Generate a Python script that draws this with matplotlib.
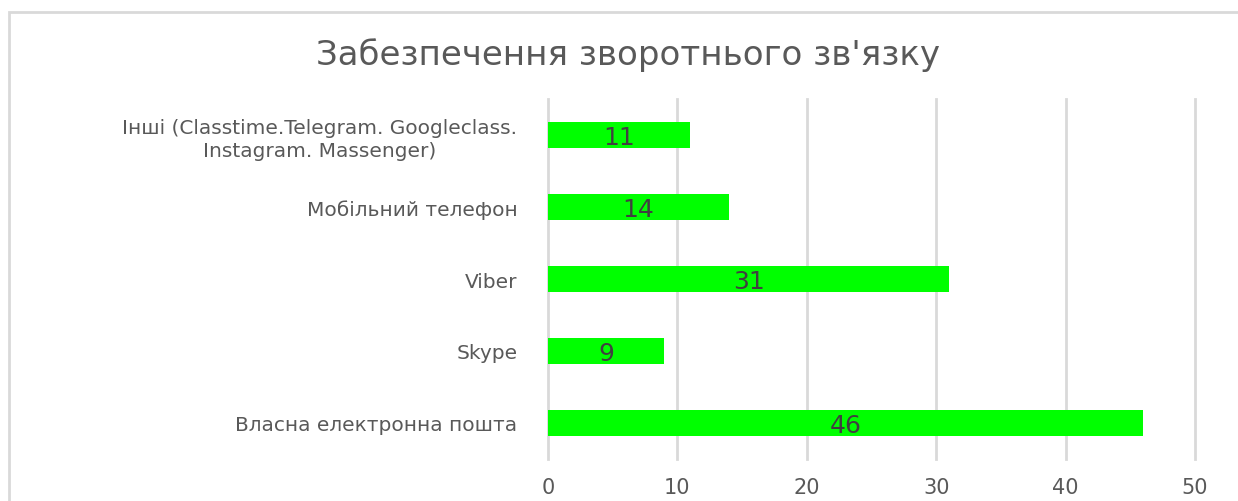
import matplotlib
matplotlib.use("Agg")
import matplotlib.pyplot as plt
from matplotlib.patches import Rectangle

title = "Забезпечення зворотнього зв'язку"
categories = ["Власна електронна пошта", "Skype", "Viber", "Мобільний телефон",
              "Інші (Classtime.Telegram. Googleclass.\nInstagram. Massenger)"]
values = [46, 9, 31, 14, 11]
xticks = [0, 10, 20, 30, 40, 50]

W, H = 1238, 502
fig = plt.figure(figsize=(W / 100, H / 100), dpi=100)
fig.patch.set_facecolor("white")

# chart border
fig.add_artist(Rectangle((9 / W, -0.05), 1.2, (H - 13) / H + 0.05, transform=fig.transFigure,
                         fill=False, edgecolor="#d9d9d9", linewidth=2))

left, right = 548 / W, 1195 / W
bottom, top = 1 - 460 / H, 1 - 100 / H
ax = fig.add_axes([left, bottom, right - left, top - bottom])

y = list(range(len(categories)))
bars = ax.barh(y, values, height=0.35, color="#00ff00", zorder=3)
ax.set_xlim(0, 50)
ax.set_ylim(-0.5, len(categories) - 0.5)
ax.set_xticks(xticks)
ax.set_xticklabels([str(t) for t in xticks], color="#595959", fontsize=15,
                   family="DejaVu Sans")
ax.set_yticks(y)
ax.set_yticklabels(categories, color="#595959", fontsize=14.5, family="DejaVu Sans",
                   multialignment="center", linespacing=1.25)
ax.tick_params(axis="both", length=0)
ax.tick_params(axis="x", pad=13)
ax.tick_params(axis="y", pad=22)
ax.grid(axis="x", color="#d9d9d9", linewidth=2, zorder=0)
for gl in ax.get_xgridlines():
    gl.set_clip_on(False)
for s in ax.spines.values():
    s.set_visible(False)

for b, v in zip(bars, values):
    ax.text(b.get_width() / 2, b.get_y() + b.get_height() / 2 - 0.03, str(v),
            ha="center", va="center", fontsize=18, color="#404040",
            family="DejaVu Sans", zorder=4)

fig.text(628 / W, 1 - 55 / H, title, ha="center", va="center", fontsize=24.5,
         color="#595959", family="DejaVu Sans")

fig.savefig("out.png", dpi=100, facecolor="white")
